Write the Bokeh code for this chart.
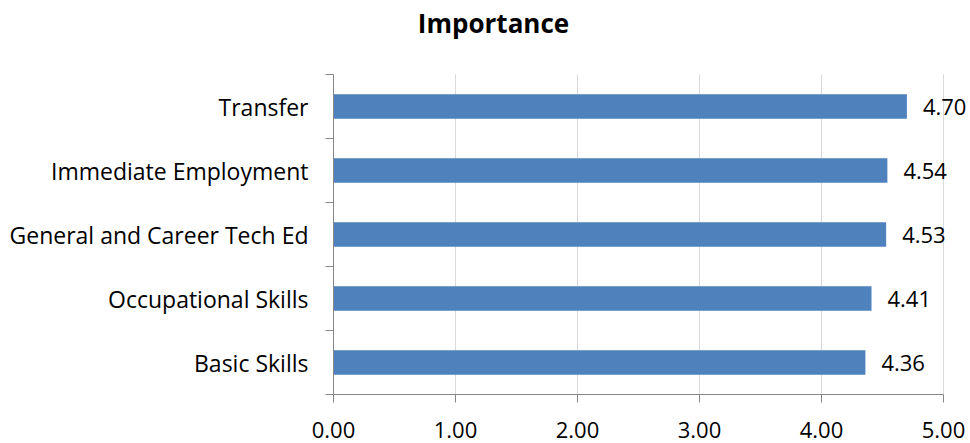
from bokeh.plotting import figure
from bokeh.models import ColumnDataSource, FixedTicker, LabelSet, Label, Range1d
from bokeh.core.properties import value
from bokeh.embed import file_html
from bokeh.resources import INLINE

categories = ["Basic Skills", "Occupational Skills", "General and Career Tech Ed",
              "Immediate Employment", "Transfer"]
values = [4.36, 4.41, 4.53, 4.54, 4.70]
value_labels = ["4.36", "4.41", "4.53", "4.54", "4.70"]
x_ticks = [0, 1, 2, 3, 4, 5]
x_tick_labels = ["0.00", "1.00", "2.00", "3.00", "4.00", "5.00"]
title_text = "Importance"

FONT = "Open Sans"
n = len(categories)
pos = [i + 0.5 for i in range(n)]
src = ColumnDataSource(dict(y=pos, v=values, lab=value_labels, cat=categories))

# frame extends to right and top edges so labels/title are not clipped
x_end = 5 + 27 / 122
y_end = n + 74 / 64

p = figure(width=970, height=443, output_backend="svg", toolbar_location=None,
           x_range=Range1d(0, x_end), y_range=Range1d(0, y_end),
           min_border_left=333, min_border_right=0, min_border_top=0,
           min_border_bottom=49)
p.outline_line_color = None
p.background_fill_color = "white"
p.border_fill_color = "white"

# vertical gridlines limited to the plot area
grid_src = ColumnDataSource(dict(x=x_ticks[1:], y0=[0] * 5, y1=[n] * 5))
p.segment(x0="x", x1="x", y0="y0", y1="y1", source=grid_src,
          line_color="#D9D9D9", line_width=1)

p.hbar(y="y", right="v", left=0, height=0.385, source=src,
       fill_color="#4F81BD", line_color=None)

# x axis
p.xaxis.ticker = FixedTicker(ticks=x_ticks)
p.xaxis.bounds = (0, 5)
p.xaxis.major_label_overrides = {t: l for t, l in zip(x_ticks, x_tick_labels)}
p.xaxis.axis_line_color = "#868686"
p.xaxis.major_tick_line_color = "#868686"
p.xaxis.major_tick_in = 0
p.xaxis.major_tick_out = 8
p.xaxis.minor_tick_line_color = None
p.xaxis.major_label_text_font = FONT
p.xaxis.major_label_text_font_size = "22px"
p.xaxis.major_label_text_color = "black"
p.xaxis.major_label_standoff = 19

# y axis: labels at centers, ticks at boundaries
p.yaxis.ticker = FixedTicker(ticks=pos, minor_ticks=list(range(n + 1)))
p.yaxis.bounds = (0, n)
p.yaxis.major_label_overrides = {y: c for y, c in zip(pos, categories)}
p.yaxis.axis_line_color = "#868686"
p.yaxis.major_tick_line_color = None
p.yaxis.major_tick_in = 0
p.yaxis.major_tick_out = 0
p.yaxis.minor_tick_line_color = "#868686"
p.yaxis.minor_tick_in = 0
p.yaxis.minor_tick_out = 8
p.yaxis.major_label_text_font = FONT
p.yaxis.major_label_text_font_size = "23px"
p.yaxis.major_label_text_color = "black"
p.yaxis.major_label_standoff = 17

p.xgrid.grid_line_color = None
p.ygrid.grid_line_color = None

labels = LabelSet(x="v", y="y", text="lab", source=src, x_offset=16,
                  text_baseline="middle", text_align="left",
                  text_font=value(FONT), text_font_size=value("22px"),
                  text_color="black")
p.add_layout(labels)

title = Label(x=(493 - 333) / 122, y=n + (74 - 22) / 64, text=title_text,
              text_align="center", text_baseline="middle", text_font=FONT,
              text_font_size="26px", text_font_style="bold", text_color="black")
p.add_layout(title)

open("out.html", "w").write(file_html(p, INLINE))
